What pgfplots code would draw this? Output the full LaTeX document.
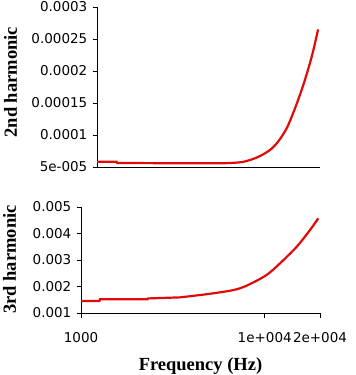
\documentclass[border=0pt]{standalone}
\usepackage{fontspec}
\setmainfont{Liberation Serif}
\newfontfamily\tickfont{DejaVu Sans}
\usepackage{pgfplots}
\pgfplotsset{compat=1.18}
\definecolor{curve}{RGB}{225,10,10}
\pgfplotsset{
  common/.style={
    scale only axis, xmin=1000, xmax=20000,
    xminorticks=false, yminorticks=false,
    axis lines*=left, axis line style={-, line width=0.8pt},
    tick align=outside, major tick length=4.5pt,
    tick style={line width=0.8pt, black},
    scaled y ticks=false,
    ticklabel style={font=\tickfont\fontsize{13.5}{14}\selectfont},
    yticklabel style={anchor=east, inner sep=0pt, xshift=-5pt},
    xticklabel style={yshift=-11pt},
    ylabel style={anchor=base, rotate=0, font=\bfseries\fontsize{18.5}{20}\selectfont},
    xlabel style={anchor=base, font=\bfseries\fontsize{18.5}{20}\selectfont},
    clip=false,
  }
}
\begin{document}
\begin{tikzpicture}
\useasboundingbox (0,0) rectangle (356pt,375pt);
\begin{semilogxaxis}[common,
  at={(97pt,208pt)}, anchor=south west, width=223pt, height=160pt,
  ymin=5e-5, ymax=3e-4,
  xtick=\empty,
  ytick={5e-5,1e-4,1.5e-4,2e-4,2.5e-4,3e-4},
  yticklabels={5e-005,0.0001,0.00015,0.0002,0.00025,0.0003},
  ylabel={2nd harmonic},
  ylabel style={at={(axis description cs:-0.359,0.53)}},
]
\addplot[color=curve, line width=2.2pt, no markers] coordinates {
(1000,5.83e-5) (1300,5.83e-5) (1310,5.63e-5) (3050,5.58e-5) (5433,5.58e-5)
};
\addplot[color=curve, line width=2.2pt, no markers, smooth, tension=0.5] coordinates {
(5433,5.58e-5)
(6829,5.73e-5) (7809,6.09e-5) (8933,6.72e-5) (10217,7.66e-5) (11376,8.95e-5)
(12786,1.105e-4) (14291,1.417e-4) (15980,1.781e-4) (17891,2.223e-4) (19500,2.65e-4)
};
\end{semilogxaxis}
\begin{semilogxaxis}[common,
  at={(81pt,62pt)}, anchor=south west, width=239pt, height=106pt,
  ymin=0.001, ymax=0.005,
  xtick={1000,10000,20000},
  xticklabels={1000,1e+004,2e+004},
  ytick={0.001,0.002,0.003,0.004,0.005},
  yticklabels={0.001,0.002,0.003,0.004,0.005},
  ylabel={3rd harmonic},
  ylabel style={at={(axis description cs:-0.272,0.505)}},
  xlabel={Frequency (Hz)},
  xlabel style={at={(axis description cs:0.5,-0.547)}},
]
\addplot[color=curve, line width=2.2pt, no markers] coordinates {
(1000,0.00145) (1260,0.00145) (1270,0.00152) (2300,0.00152) (2316,0.00155) (3458,0.00159)
};
\addplot[color=curve, line width=2.2pt, no markers, smooth, tension=0.5] coordinates {
(3458,0.00159) (5251,0.001743) (7337,0.001932) (10037,0.002396) (12116,0.002875)
(14940,0.003502) (17645,0.004132) (19576,0.004574)
};
\end{semilogxaxis}
\end{tikzpicture}
\end{document}
